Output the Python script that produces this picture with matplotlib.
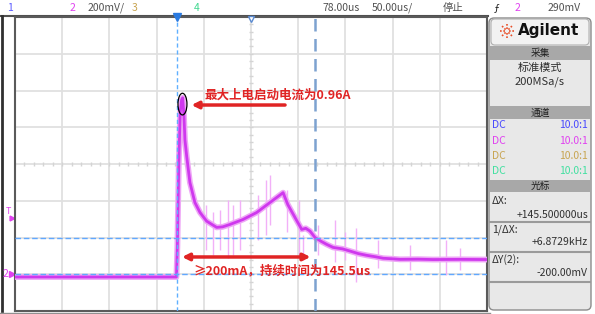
import math

import matplotlib.pyplot as plt
from matplotlib.patches import Ellipse, Rectangle, FancyBboxPatch

plt.rcParams['font.family'] = ['Noto Sans CJK SC', 'DejaVu Sans']

# 通道2波形 (时间 us, 电流 mA)
t_us = [-172, -1, 0, 1.5, 3, 4.5, 5.6, 7, 8, 9.9, 13.3, 18.6, 24, 31, 41.6, 48, 55.7,
        69.5, 84, 98, 105, 112, 117, 124.6, 131.7, 136, 140.5, 145.8, 152, 158,
        165, 175, 183, 192, 200.5, 210, 218, 228, 236, 255, 271, 300, 328]
i_mA = [-15, -15, 150, 600, 880, 950, 960, 860, 732, 641, 499, 390, 336, 289, 255, 258, 271,
        298, 336, 390, 417, 444, 379, 309, 244, 250, 235, 200, 180, 163,
        146, 138, 126, 112, 103, 95, 87, 84, 81, 82, 80, 81, 80]

# 毛刺 (时间 us, 下沿 mA, 上沿 mA)
spike_t = [30.3, 37.7, 45.1, 53.6, 58.9, 66.3, 85.4, 93.9, 98.1, 116.1, 128.8, 133.0,
           148.9, 167, 177.5, 189.2, 212.5, 246.4, 284.6, 299.4]
spike_lo = [132, 105, 132, 88, 105, 132, 186, 214, 268, 230, 105, 78,
            105, 67, 78, -42, 34, 23, -4, 23]
spike_hi = [377, 341, 350, 404, 377, 404, 431, 513, 540, 458, 404, 214,
            268, 295, 230, 252, 186, 159, 186, 143]

cursor_x = [0, 145.5]
cursor_y = [0, 200]

top_labels = [("1", 7, '#5a5aff'), ("2", 70, '#e040f0'), ("200mV/", 88, '#505050'),
              ("3", 132, '#c8a450'), ("4", 194, '#40d890'), ("78.00us", 322, '#505050'),
              ("50.00us/", 372, '#505050'), ("停止", 443, '#505050'), ("ƒ", 494, '#202020'),
              ("2", 515, '#e040f0'), ("290mV", 548, '#505050')]
probe_colors = ['#4848ff', '#e040f0', '#c8a450', '#40e0a0']

W, H = 595, 314
fig = plt.figure(figsize=(W / 100, H / 100), dpi=100)
fig.patch.set_facecolor('white')

# 边框、面板
bg = fig.add_axes([0, 0, 1, 1])
bg.set_xlim(0, W)
bg.set_ylim(H, 0)
bg.axis('off')
bg.plot([0, 488], [15.5, 15.5], color='#505050', lw=1.5)
bg.plot([1.5, 1.5], [16, 311], color='#303030', lw=2)
bg.plot([0, 490], [312.5, 312.5], color='#909090', lw=1)
for lab, x, c in top_labels:
    bg.text(x, 8, lab, color=c, fontsize=7.5, ha='left', va='center')

bg.add_patch(FancyBboxPatch((489, 18), 102, 292, boxstyle='round,pad=0,rounding_size=5',
                            fc='#e8e8e8', ec='#8c8c8c', lw=1))
bg.add_patch(FancyBboxPatch((491, 19), 98, 26, boxstyle='round,pad=0,rounding_size=4',
                            fc='#f2f2f2', ec='#b0b0b0', lw=0.8))
for k in range(8):
    a = k * math.pi / 4
    bg.plot([507 + 2 * math.cos(a), 507 + 7.5 * math.cos(a)],
            [31 + 2 * math.sin(a), 31 + 7.5 * math.sin(a)], color='#e8502a', lw=1.2, ls=(0, (1, 1)))
bg.text(518, 31, "Agilent", fontsize=11, fontweight='bold', color='#111111', va='center',
        family='DejaVu Sans')
for y0, y1, lab in [(46, 60, "采集"), (106, 119, "通道"), (180, 192, "光标")]:
    bg.add_patch(Rectangle((490, y0), 100, y1 - y0, fc='#a8a8a8', ec='none'))
    bg.text(540, (y0 + y1) / 2, lab, fontsize=7, color='#202020', ha='center', va='center')
bg.text(540, 68, "标准模式", fontsize=8, color='#303030', ha='center', va='center')
bg.text(540, 82, "200MSa/s", fontsize=8, color='#303030', ha='center', va='center')
for n, c in enumerate(probe_colors):
    y = 125 + n * 15.5
    bg.text(492, y, "DC", fontsize=7.5, color=c, va='center')
    bg.text(588, y, "10.0:1", fontsize=7.5, color=c, va='center', ha='right')
rows = [("ΔX:", "+145.500000us", 201, 215, 222),
        ("1/ΔX:", "+6.8729kHz", 230, 242, 252),
        ("ΔY(2):", "-200.00mV", 260, 273, 282)]
for a, b, ya, yb, ys in rows:
    bg.text(492, ya, a, fontsize=7.5, color='#303030', va='center')
    bg.text(588, yb, b, fontsize=7.5, color='#303030', va='center', ha='right')
    bg.plot([490, 590], [ys, ys], color='#9a9a9a', lw=1.5)

# 左侧标记
bg.text(3, 274, "2", color='#e040f0', fontsize=7.5, va='center')
bg.plot([12], [274], marker='>', color='#e040f0', ms=4)
bg.text(6, 212, "T", color='#e040f0', fontsize=6.5, va='center')
bg.plot([12], [218], marker='>', color='#e040f0', ms=3.5)

# 波形区
ax = fig.add_axes([15 / W, (H - 311) / H, 472 / W, 294 / H])
ax.set_xlim(-172, 328)
ax.set_ylim(-200, 1400)
ax.set_xticks([-172 + 50 * k for k in range(11)])
ax.set_yticks([-200 + 200 * k for k in range(9)])
ax.tick_params(length=0, labelbottom=False, labelleft=False)
ax.grid(True, color='#e0e0e0', lw=1.3)
for s in ax.spines.values():
    s.set_color('#5a5a5a')
    s.set_linewidth(1.5)
ax.plot([78] * 39, [-160 + 40 * k for k in range(39)], ls='none', marker='_', ms=3,
        color='#d4d4d4', mew=1)
ax.plot([-172 + 10 * k for k in range(51)], [600] * 51, ls='none', marker='|', ms=3,
        color='#d4d4d4', mew=1)

ax.vlines(spike_t, spike_lo, spike_hi, color='#f2b0f8', lw=1, zorder=3)
ax.plot(t_us, i_mA, color='#eea6f6', lw=4.2, zorder=4, solid_joinstyle='round')
ax.plot(t_us, i_mA, color='#cf38ee', lw=2, zorder=5, solid_joinstyle='round')

ax.axvline(cursor_x[0], color='#60b0ff', lw=1, ls=(0, (3, 2)), zorder=6)
ax.axvline(cursor_x[1], color='#7da2d0', lw=1.8, ls=(0, (5, 3)), zorder=6)
for y in cursor_y:
    ax.axhline(y, color='#60a8ff', lw=1, ls=(0, (4, 2)), zorder=6)
ax.plot([cursor_x[0]], [1400], marker='v', color='#2a7ae0', ms=6, clip_on=False, zorder=7)
ax.plot([78], [1390], marker='v', mfc='white', mec='#5a8ad0', ms=5, clip_on=False, zorder=7)

# 标注
red = '#e02424'
ax.add_patch(Ellipse((5.4, 926), 9.5, 118, fill=False, ec='black', lw=0.9, zorder=8))
ax.annotate("", xy=(12, 921), xytext=(117, 921),
            arrowprops=dict(arrowstyle='-|>', color=red, lw=2.5, mutation_scale=10), zorder=8)
ax.text(28.4, 976, "最大上电启动电流为0.96A", color=red, fontsize=9, fontweight='bold',
        va='center', ha='left', zorder=8)
ax.annotate("", xy=(2, 94), xytext=(144, 94),
            arrowprops=dict(arrowstyle='<|-|>', color=red, lw=2.5, mutation_scale=10), zorder=8)
ax.text(17.6, 18, "≥200mA，持续时间为145.5us", color=red, fontsize=9, fontweight='bold',
        va='center', ha='left', zorder=8)

fig.savefig('out.png', dpi=100)
